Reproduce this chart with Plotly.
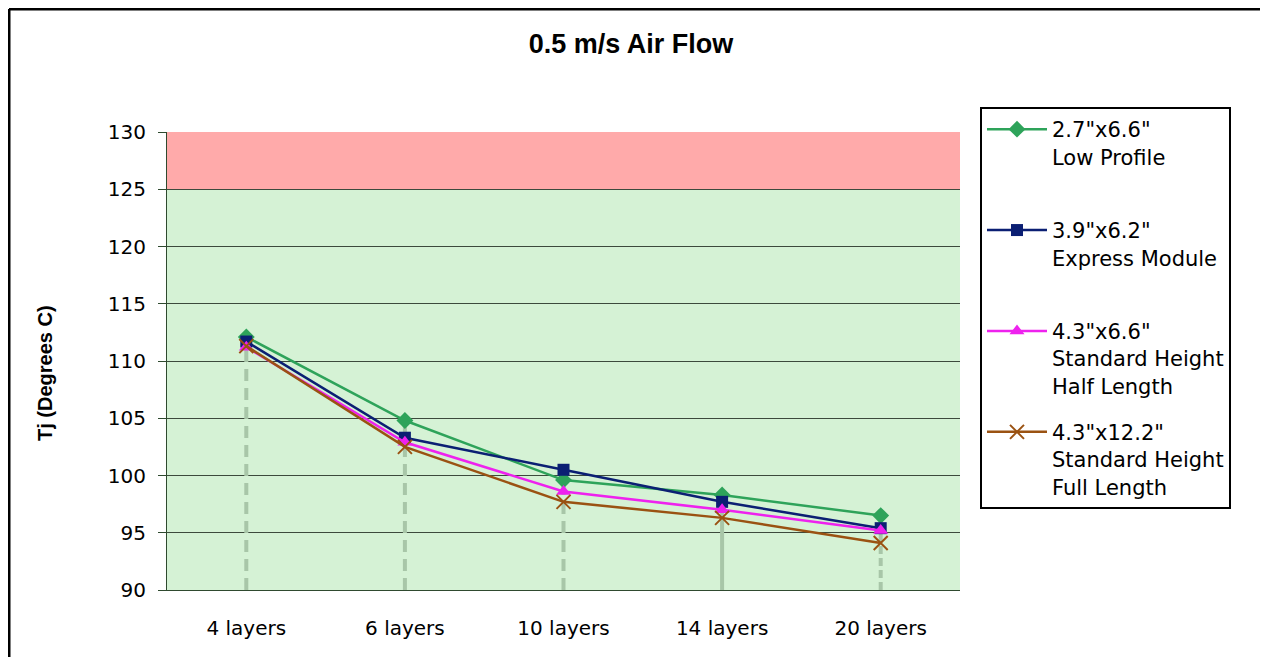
import plotly.graph_objects as go

categories = ["4 layers", "6 layers", "10 layers", "14 layers", "20 layers"]
series_names = [
    '2.7"x6.6"<br>Low Profile<br> ',
    '3.9"x6.2"<br>Express Module<br> ',
    '4.3"x6.6"<br>Standard Height<br>Half Length',
    '4.3"x12.2"<br>Standard Height<br>Full Length',
]
low_profile = [112.1, 104.8, 99.6, 98.3, 96.5]
express_module = [111.7, 103.3, 100.5, 97.7, 95.4]
std_half = [111.2, 102.9, 98.6, 97.0, 95.2]
std_full = [111.3, 102.5, 97.7, 96.3, 94.1]
y_ticks = [90, 95, 100, 105, 110, 115, 120, 125, 130]
safe_limit = 125
y_min, y_max = 90, 130
title_text = "0.5 m/s Air Flow"
y_title = "Tj (Degrees C)"

all_series = [low_profile, express_module, std_half, std_full]
colors = ["#2ea35a", "#0b1f73", "#ee22ee", "#9a5212"]
symbols = ["diamond", "square", "triangle-up", "x-thin-open"]
sizes = [13, 12, 13, 14]
drop_dash = ["12px,7px", "12px,7px", "12px,7px", "solid", "8px,4px"]

# figure is placed 8px from the page corner by the body margin
W, H = 1260, 649
L, R, T, B = 159, 308, 124, 67
pw, ph = W - L - R, H - T - B

fig = go.Figure()

# drop lines
for i, cat in enumerate(categories):
    top = max(s[i] for s in all_series)
    fig.add_trace(go.Scatter(
        x=[cat, cat], y=[y_min, top], mode="lines",
        line=dict(color="#a8c6a8", width=4, dash=drop_dash[i]),
        showlegend=False, hoverinfo="skip"))

for k, (name, vals) in enumerate(zip(series_names, all_series)):
    marker = dict(symbol=symbols[k], size=sizes[k], color=colors[k])
    if symbols[k] == "x-thin-open":
        marker["line"] = dict(color=colors[k], width=2)
    fig.add_trace(go.Scatter(
        x=categories, y=vals, mode="lines+markers", name=name,
        legendgroup=f"g{k}",
        line=dict(color=colors[k], width=2.5), marker=marker))

# background zones
fig.add_shape(type="rect", xref="paper", yref="y", x0=0, x1=1, y0=safe_limit, y1=y_max,
              fillcolor="#ffaaaa", line_width=0, layer="below")
fig.add_shape(type="rect", xref="paper", yref="y", x0=0, x1=1, y0=y_min, y1=safe_limit,
              fillcolor="#d5f2d5", line_width=0, layer="below")

# outer frame (top and left)
fx = (1 - L) / pw
fy = 1 + (T - 1) / ph
fig.add_shape(type="line", xref="paper", yref="paper", x0=fx, x1=1 + R / pw, y0=fy, y1=fy,
              line=dict(color="black", width=3))
fig.add_shape(type="line", xref="paper", yref="paper", x0=fx, x1=fx, y0=-B / ph, y1=fy,
              line=dict(color="black", width=3))

fig.add_annotation(text=f"<b>{y_title}</b>", xref="paper", yref="paper",
                   x=(45 - 167) / pw, y=(590 - 373) / ph, textangle=-90, showarrow=False,
                   xanchor="center", yanchor="middle",
                   font=dict(family="Liberation Sans, Arial", size=20, color="black"))

fig.update_layout(
    width=W, height=H,
    margin=dict(l=L, r=R, t=T, b=B),
    paper_bgcolor="white", plot_bgcolor="rgba(0,0,0,0)",
    title=dict(text=f"<b>{title_text}</b>", x=623 / W, xanchor="center",
               y=1 - 36 / H, yanchor="middle",
               font=dict(family="Liberation Sans, Arial", size=27, color="black")),
    font=dict(family="DejaVu Sans", size=19, color="black"),
    legend=dict(x=(980 - 167) / pw, y=1 + (132 - 107) / ph, xanchor="left", yanchor="top",
                bordercolor="black", borderwidth=2, bgcolor="white",
                font=dict(family="DejaVu Sans", size=21, color="black"),
                valign="top", itemwidth=60, tracegroupgap=16,
                traceorder="grouped", maxheight=620),
    showlegend=True,
)

fig.update_xaxes(type="category", range=[-0.5, len(categories) - 0.5],
                 showgrid=False, showline=True, linecolor="#2f4a2f",
                 linewidth=1, ticks="", ticklabelstandoff=20, zeroline=False,
                 tickfont=dict(family="DejaVu Sans", size=20))
fig.update_yaxes(range=[y_min, y_max], tickvals=y_ticks, showgrid=True,
                 gridcolor="#3c4a3c", gridwidth=1, showline=True, linecolor="#2f4a2f",
                 linewidth=1, ticks="outside", ticklen=8, tickcolor="#2f4a2f",
                 ticklabelstandoff=8, zeroline=False,
                 tickfont=dict(family="DejaVu Sans", size=20))

fig.write_html("out.html")
